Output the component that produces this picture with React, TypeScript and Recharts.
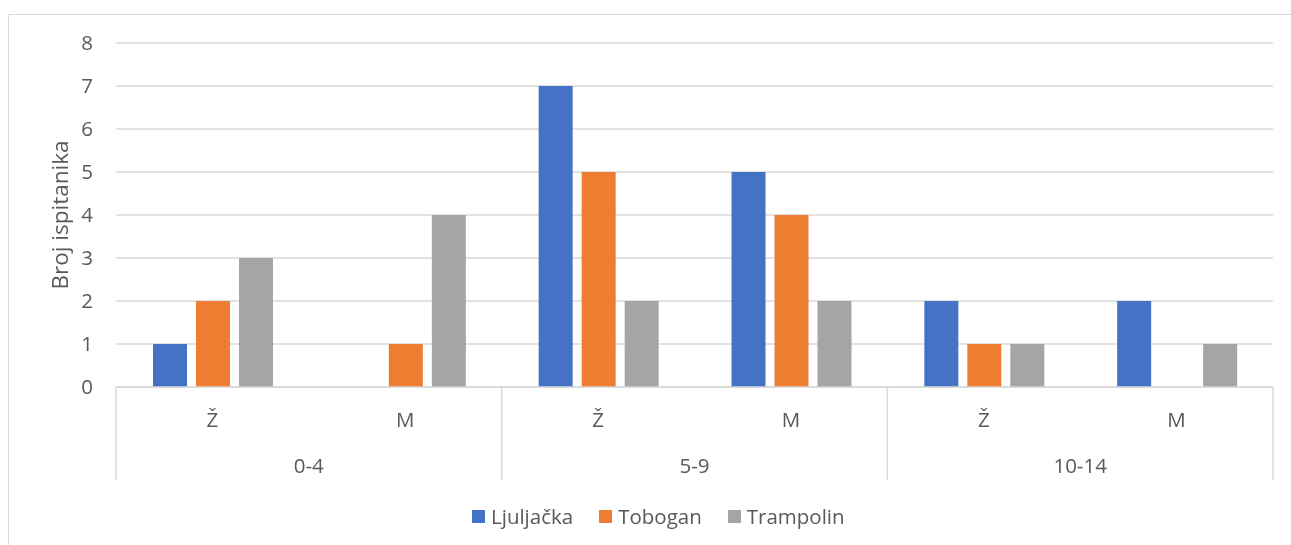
import { Bar, BarChart, CartesianGrid, XAxis, YAxis } from "recharts"

const AGE_GROUPS = ["0-4", "5-9", "10-14"]
const SEXES = ["Ž", "M"]
const LJULJACKA = [1, 0, 7, 5, 2, 2]
const TOBOGAN = [2, 1, 5, 4, 1, 0]
const TRAMPOLIN = [3, 4, 2, 2, 1, 1]
const Y_TICKS = [0, 1, 2, 3, 4, 5, 6, 7, 8]

const SERIES = [
  { key: "Ljuljačka", values: LJULJACKA, color: "#4472C4" },
  { key: "Tobogan", values: TOBOGAN, color: "#ED7D31" },
  { key: "Trampolin", values: TRAMPOLIN, color: "#A5A5A5" },
]

const data = AGE_GROUPS.flatMap((age, g) =>
  SEXES.map((sex, s) => {
    const i = g * SEXES.length + s
    const row: Record<string, string | number> = { id: `${age} ${sex}`, age, sex }
    SERIES.forEach((ser) => {
      row[ser.key] = ser.values[i]
    })
    return row
  })
)

const WIDTH = 1283
const HEIGHT = 529
const MARGIN = { top: 35, right: 18, left: 0, bottom: 50 }
const Y_WIDTH = 108
const X_HEIGHT = 100
const PLOT_W = WIDTH - MARGIN.left - MARGIN.right - Y_WIDTH
const BAND = PLOT_W / data.length

const TEXT = "#595959"
const GRID = "#d9d9d9"
const FONT = "'Open Sans', sans-serif"
const FS = 20.5

function CategoryTick(props: any) {
  const { x, y, index } = props
  const row = data[index]
  const half = BAND / 2
  return (
    <g>
      <text x={x} y={y + 32} textAnchor="middle" dominantBaseline="central" fill={TEXT} fontSize={FS} fontFamily={FONT}>
        {row.sex}
      </text>
      {index % SEXES.length === 0 && (
        <>
          <line x1={x - half} y1={y} x2={x - half} y2={y + 93} stroke={GRID} strokeWidth={1.5} />
          <text x={x + half} y={y + 78} textAnchor="middle" dominantBaseline="central" fill={TEXT} fontSize={FS} fontFamily={FONT}>
            {row.age}
          </text>
        </>
      )}
      {index === data.length - 1 && (
        <line x1={x + half} y1={y} x2={x + half} y2={y + 93} stroke={GRID} strokeWidth={1.5} />
      )}
    </g>
  )
}

export default function App() {
  return (
    <div style={{ position: "relative", width: WIDTH, height: HEIGHT, fontFamily: FONT }}>
      {/* chart frame, cut off at the right and bottom like the original */}
      <div
        style={{
          position: "fixed",
          left: 8,
          top: 14,
          width: 1400,
          height: 700,
          borderTop: "1.5px solid #d9d9d9",
          borderLeft: "1.5px solid #d9d9d9",
        }}
      />
      <div style={{ position: "absolute", left: 0, top: 0 }}>
        <BarChart width={WIDTH} height={HEIGHT} data={data} margin={MARGIN} barCategoryGap={37} barGap={9}>
          <CartesianGrid vertical={false} stroke={GRID} strokeWidth={1.5} />
          <XAxis
            dataKey="id"
            height={X_HEIGHT}
            interval={0}
            tickLine={false}
            tickSize={0}
            tickMargin={0}
            axisLine={{ stroke: GRID, strokeWidth: 1.5 }}
            tick={<CategoryTick />}
          />
          <YAxis
            width={Y_WIDTH}
            domain={[0, 8]}
            ticks={Y_TICKS}
            interval={0}
            axisLine={false}
            tickLine={false}
            tickSize={0}
            tickMargin={23}
            tick={{ fill: TEXT, fontSize: FS, fontFamily: FONT }}
            label={{
              content: ({ viewBox }: any) => {
                const cx = viewBox.x + 51
                const cy = viewBox.y + viewBox.height / 2
                return (
                  <text
                    x={cx}
                    y={cy}
                    transform={`rotate(-90 ${cx} ${cy})`}
                    textAnchor="middle"
                    dominantBaseline="central"
                    fill={TEXT}
                    fontSize={22.5}
                    fontFamily={FONT}
                  >
                    Broj ispitanika
                  </text>
                )
              },
            }}
          />
          {SERIES.map((s) => (
            <Bar key={s.key} dataKey={s.key} fill={s.color} isAnimationActive={false} />
          ))}
        </BarChart>
      </div>
      <div
        style={{
          position: "absolute",
          left: 464,
          top: 495,
          height: 26,
          display: "flex",
          alignItems: "center",
          fontSize: FS,
          color: TEXT,
          whiteSpace: "nowrap",
        }}
      >
        {SERIES.map((s) => (
          <div key={s.key} style={{ display: "flex", alignItems: "center", marginRight: 26 }}>
            <span style={{ width: 13, height: 13, background: s.color, marginRight: 6, display: "inline-block" }} />
            <span>{s.key}</span>
          </div>
        ))}
      </div>
    </div>
  )
}
